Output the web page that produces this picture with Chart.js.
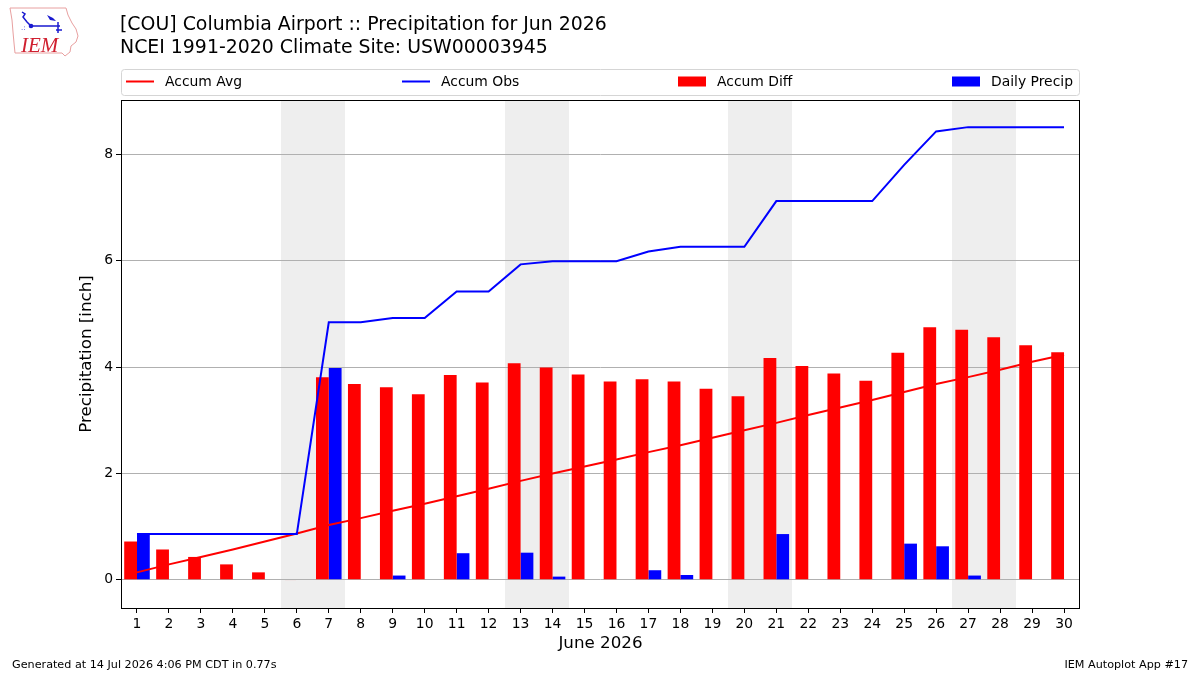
<!DOCTYPE html>
<html>
<head>
<meta charset="utf-8">
<script src="https://cdn.jsdelivr.net/npm/chart.js@4.4.1/dist/chart.umd.min.js"></script>
<style>
  html, body { margin: 0; padding: 0; background: #ffffff; }
  #wrap { width: 1200px; height: 675px; position: relative; }
</style>
</head>
<body>
<div id="wrap"><canvas id="c" width="1200" height="675"></canvas></div>
<script>
// ---------------- data ----------------
const days = ['1','2','3','4','5','6','7','8','9','10','11','12','13','14','15',
              '16','17','18','19','20','21','22','23','24','25','26','27','28','29','30'];
const accumAvg = [0.14,0.29,0.43,0.57,0.72,0.87,1.03,1.16,1.30,1.43,1.57,1.71,1.86,2.00,2.13,
                  2.26,2.40,2.53,2.67,2.81,2.95,3.10,3.24,3.38,3.53,3.68,3.81,3.95,4.10,4.23];
const accumObs = [0.86,0.86,0.86,0.86,0.86,0.86,4.84,4.84,4.92,4.92,5.42,5.42,5.93,5.99,5.99,
                  5.99,6.17,6.26,6.26,6.26,7.12,7.12,7.12,7.12,7.80,8.43,8.51,8.51,8.51,8.51];
const accumDiff = [0.72,0.57,0.43,0.29,0.14,-0.01,3.81,3.68,3.62,3.49,3.85,3.71,4.07,3.99,3.86,
                   3.73,3.77,3.73,3.59,3.45,4.17,4.02,3.88,3.74,4.27,4.75,4.70,4.56,4.41,4.28];
const dailyPrecip = [0.86,0,0,0,0,0,3.98,0,0.08,0,0.50,0,0.51,0.06,0,
                     0,0.18,0.09,0,0,0.86,0,0,0,0.68,0.63,0.08,0,0,0];
const yTicks = [0, 2, 4, 6, 8];
const weekendDays = ['6','7','13','14','20','21','27','28'];

const titleLines = ['[COU] Columbia Airport :: Precipitation for Jun 2026',
                    'NCEI 1991-2020 Climate Site: USW00003945'];
const xTitle = 'June 2026';
const yTitle = 'Precipitation [inch]';
const footerLeft = 'Generated at 14 Jul 2026 4:06 PM CDT in 0.77s';
const footerRight = 'IEM Autoplot App #17';

const FONT = "'DejaVu Sans', 'Liberation Sans', sans-serif";

// ---------------- plugins ----------------
const backgroundPlugin = {
  id: 'bgShade',
  beforeDraw(chart) {
    const ctx = chart.ctx, a = chart.chartArea, x = chart.scales.x;
    ctx.save();
    ctx.fillStyle = '#ffffff';
    ctx.fillRect(0, 0, chart.width, chart.height);
    ctx.fillStyle = '#eeeeee';
    // merge consecutive weekend days into spans
    const idx = weekendDays.map(d => days.indexOf(d)).sort((p, q) => p - q);
    let s = 0;
    while (s < idx.length) {
      let e = s;
      while (e + 1 < idx.length && idx[e + 1] === idx[e] + 1) e++;
      const x0 = x.getPixelForValue(idx[s] - 0.5);
      const x1 = x.getPixelForValue(idx[e] + 0.5);
      ctx.fillRect(Math.round(x0), a.top, Math.round(x1) - Math.round(x0), a.bottom - a.top);
      s = e + 1;
    }
    ctx.restore();
  }
};

function drawLogo(ctx) {
  ctx.save();
  ctx.textAlign = 'left';
  // state outline
  ctx.strokeStyle = '#e8a0a0';
  ctx.lineWidth = 1;
  ctx.beginPath();
  const pts = [[10,8],[66,8],[68,15],[72,23],[76,29],[78,36],[76,42],[71,46],[70,52],[65,56],[62,53],[15,53],[14,43],[13,32],[12,20],[10,8]];
  ctx.moveTo(pts[0][0], pts[0][1]);
  for (let i = 1; i < pts.length; i++) ctx.lineTo(pts[i][0], pts[i][1]);
  ctx.stroke();
  // blue station symbol
  ctx.strokeStyle = '#1a1ad0';
  ctx.fillStyle = '#1a1ad0';
  ctx.lineWidth = 1.5;
  ctx.beginPath();
  ctx.moveTo(22, 12); ctx.lineTo(25, 14); ctx.lineTo(23, 17); ctx.lineTo(27, 22); ctx.lineTo(31, 26);
  ctx.moveTo(31, 26); ctx.lineTo(60, 26);
  ctx.moveTo(58, 22); ctx.lineTo(58, 33);
  ctx.moveTo(56, 30); ctx.lineTo(62, 30);
  ctx.stroke();
  ctx.beginPath(); ctx.arc(31, 26, 2.3, 0, Math.PI * 2); ctx.fill();
  ctx.beginPath(); ctx.moveTo(47, 15); ctx.lineTo(53, 18); ctx.lineTo(56, 21); ctx.lineTo(50, 20); ctx.closePath(); ctx.fill();
  ctx.font = '7px ' + FONT;
  ctx.textBaseline = 'alphabetic';
  ctx.fillText('.:', 21, 30);
  // IEM text
  ctx.fillStyle = '#d02030';
  ctx.font = "italic 21px 'Liberation Serif', 'DejaVu Serif', serif";
  ctx.fillText('IEM', 21, 52);
  ctx.restore();
}

const decorPlugin = {
  id: 'decor',
  afterDraw(chart) {
    const ctx = chart.ctx, a = chart.chartArea;
    ctx.save();
    // frame (spines)
    ctx.strokeStyle = '#000000';
    ctx.lineWidth = 1;
    ctx.strokeRect(Math.round(a.left) + 0.5, Math.round(a.top) + 0.5,
                   Math.round(a.right) - Math.round(a.left) - 1, Math.round(a.bottom) - Math.round(a.top));

    // title
    ctx.fillStyle = '#000000';
    ctx.font = '18.9px ' + FONT;
    ctx.textBaseline = 'middle';
    ctx.textAlign = 'left';
    ctx.fillText(titleLines[0], 120, 25);
    ctx.fillText(titleLines[1], 120, 48);

    // axis titles
    ctx.font = '16.7px ' + FONT;
    ctx.textAlign = 'center';
    ctx.fillText(xTitle, (a.left + a.right) / 2, 644);
    ctx.save();
    ctx.translate(87, (a.top + a.bottom) / 2);
    ctx.rotate(-Math.PI / 2);
    ctx.fillText(yTitle, 0, 0);
    ctx.restore();

    // legend box
    const lx = 121, ly = 69.5, lw = 959, lh = 26;
    ctx.fillStyle = 'rgba(255,255,255,0.8)';
    ctx.strokeStyle = '#d5d5d5';
    ctx.lineWidth = 1;
    ctx.beginPath();
    ctx.roundRect(lx + 0.5, ly, lw - 1, lh, 3);
    ctx.fill();
    ctx.stroke();
    ctx.font = '13.9px ' + FONT;
    ctx.textAlign = 'left';
    ctx.textBaseline = 'middle';
    const cy = 82;
    const items = chart.data.datasets.slice().sort((p, q) => p.legendPos - q.legendPos);
    items.forEach(ds => {
      const x0 = ds.legendX;
      if (ds.type === 'line') {
        ctx.strokeStyle = ds.borderColor;
        ctx.lineWidth = 2;
        ctx.beginPath();
        ctx.moveTo(x0, cy - 0.5); ctx.lineTo(x0 + 28, cy - 0.5);
        ctx.stroke();
      } else {
        ctx.fillStyle = ds.backgroundColor;
        ctx.fillRect(x0, cy - 5.5, 28, 10);
      }
      ctx.fillStyle = '#000000';
      ctx.fillText(ds.label, x0 + 39, cy);
    });

    // footer
    ctx.font = '11.2px ' + FONT;
    ctx.textAlign = 'left';
    ctx.fillText(footerLeft, 12, 665);
    ctx.textAlign = 'right';
    ctx.fillText(footerRight, 1188, 665);
    ctx.textAlign = 'left';

    drawLogo(ctx);
    ctx.restore();
  }
};

// ---------------- chart ----------------
const ctx = document.getElementById('c').getContext('2d');
new Chart(ctx, {
  data: {
    labels: days,
    datasets: [
      { type: 'bar', label: 'Accum Diff', data: accumDiff, backgroundColor: '#ff0000',
        borderWidth: 0, order: 2, categoryPercentage: 0.8, barPercentage: 1.0,
        legendPos: 3, legendX: 678 },
      { type: 'bar', label: 'Daily Precip', data: dailyPrecip, backgroundColor: '#0000ff',
        borderWidth: 0, order: 2, categoryPercentage: 0.8, barPercentage: 1.0,
        legendPos: 4, legendX: 952 },
      { type: 'line', label: 'Accum Avg', data: accumAvg, borderColor: '#ff0000',
        borderWidth: 2, pointRadius: 0, tension: 0, fill: false, order: 1,
        legendPos: 1, legendX: 126 },
      { type: 'line', label: 'Accum Obs', data: accumObs, borderColor: '#0000ff',
        borderWidth: 2, pointRadius: 0, tension: 0, fill: false, order: 0,
        legendPos: 2, legendX: 402 }
    ]
  },
  options: {
    responsive: false,
    animation: false,
    devicePixelRatio: 1,
    layout: { padding: { left: 0, top: 100, right: 120, bottom: 0 } },
    plugins: { legend: { display: false }, title: { display: false }, tooltip: { enabled: false } },
    scales: {
      x: {
        type: 'category',
        offset: true,
        grid: { display: true, drawOnChartArea: false, drawTicks: true, tickLength: 5,
                tickColor: '#000000', offset: false },
        border: { display: false },
        ticks: { color: '#000000', font: { family: FONT, size: 13.9 }, padding: 3,
                 maxRotation: 0, autoSkip: false },
        afterFit: s => { s.height = 67; }
      },
      y: {
        type: 'linear',
        min: -0.53,
        max: 9.02,
        afterBuildTicks: s => { s.ticks = yTicks.map(v => ({ value: v })); },
        grid: { color: '#b0b0b0', lineWidth: 1, tickColor: '#000000', tickLength: 5, drawTicks: true },
        border: { display: false },
        ticks: { color: '#000000', font: { family: FONT, size: 13.9 }, padding: 3 },
        afterFit: s => { s.width = 121; }
      }
    }
  },
  plugins: [backgroundPlugin, decorPlugin]
});
</script>
</body>
</html>
